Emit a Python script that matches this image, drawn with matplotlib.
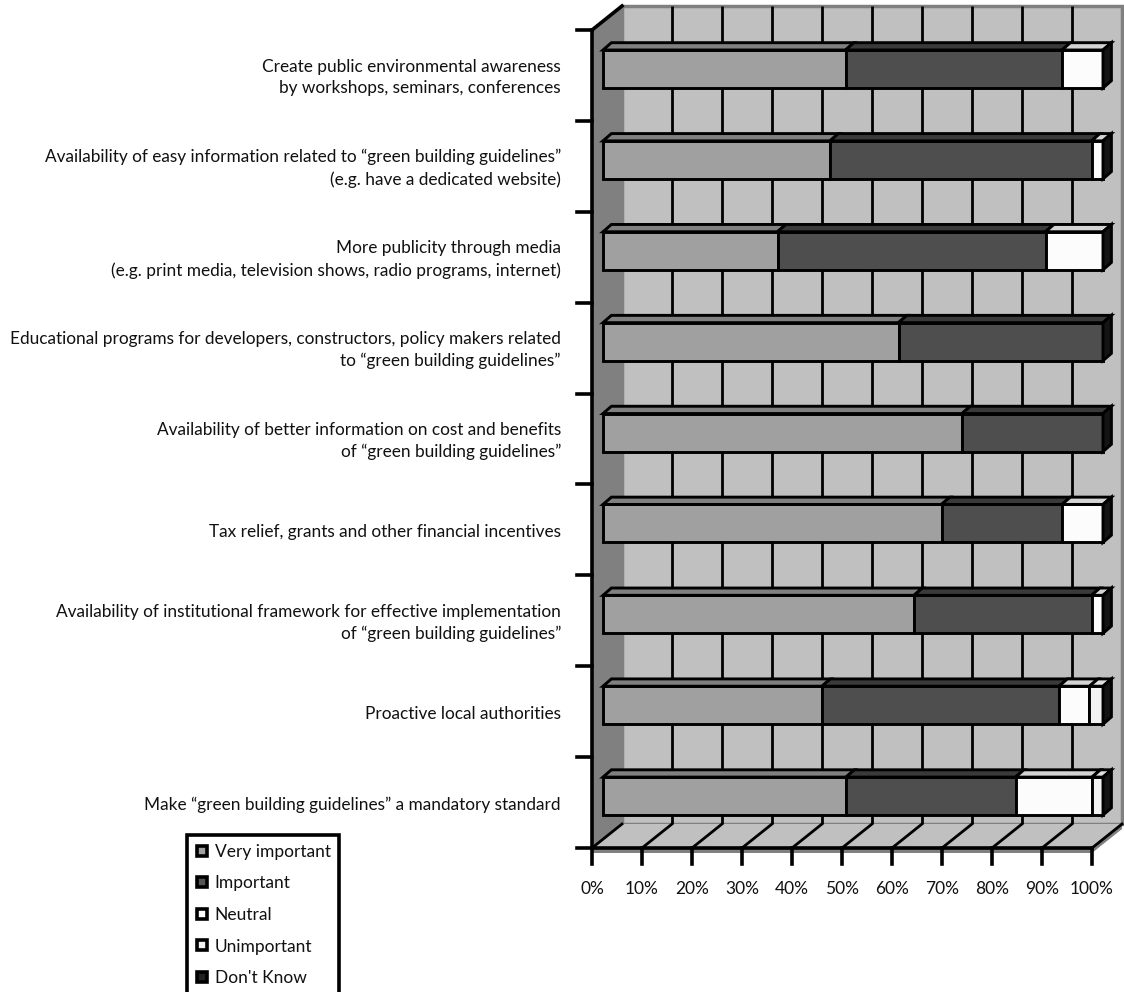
import matplotlib
matplotlib.use("Agg")
import matplotlib.pyplot as plt
from matplotlib.patches import Polygon
from matplotlib.lines import Line2D

plt.rcParams["font.family"] = ["Lato", "DejaVu Sans"]

# ---- data -------------------------------------------------------------
categories = [
    "Create public environmental awareness\nby workshops, seminars, conferences",
    "Availability of easy information related to \u201cgreen building guidelines\u201d\n(e.g. have a dedicated website)",
    "More publicity through media\n(e.g. print media, television shows, radio programs, internet)",
    "Educational programs for developers, constructors, policy makers related\nto \u201cgreen building guidelines\u201d",
    "Availability of better information on cost and benefits\nof \u201cgreen building guidelines\u201d",
    "Tax relief, grants and other financial incentives",
    "Availability of institutional framework for effective implementation\nof \u201cgreen building guidelines\u201d",
    "Proactive local authorities",
    "Make \u201cgreen building guidelines\u201d a mandatory standard",
]
very_important = [48.5, 45.4, 34.9, 59.1, 71.8, 67.7, 62.2, 43.8, 48.6]
important      = [43.3, 52.3, 53.6, 40.9, 28.2, 24.1, 35.5, 47.4, 33.9]
neutral        = [8.2, 2.3, 11.5, 0.0, 0.0, 8.2, 2.3, 6.1, 15.3]
unimportant    = [0.0, 0.0, 0.0, 0.0, 0.0, 0.0, 0.0, 2.7, 2.2]
dont_know      = [0.0, 0.0, 0.0, 0.0, 0.0, 0.0, 0.0, 0.0, 0.0]
series_names = ["Very important", "Important", "Neutral", "Unimportant", "Don't Know"]
x_ticks = [0, 10, 20, 30, 40, 50, 60, 70, 80, 90, 100]

# ---- styling ----------------------------------------------------------
front_cols = ["#a0a0a0", "#4e4e4e", "#fcfcfc", "#f2f2f2", "#222222"]
top_cols   = ["#808080", "#3a3a3a", "#d4d4d4", "#e0e0e0", "#111111"]
legend_cols = ["#a0a0a0", "#555555", "#ffffff", "#f2f2f2", "#222222"]
side_col = "#141414"
wall_col = "#c0c0c0"
side_wall_col = "#808080"
txt_col = "#111111"

PX_X = 5.0          # pixels per percent
PX_Y = 90.89        # pixels per category band
WX, WY = 30 / PX_X, -24 / PX_Y        # depth of the back wall
FX, FY = 11 / PX_X, -6.45 / PX_Y      # front face of the bars
BDX, BDY = 8.4 / PX_X, -7.3 / PX_Y    # bar depth
BH = 38 / PX_Y                        # bar height
T = 5 / PX_Y                          # floor thickness
n = len(categories)

fig = plt.figure(figsize=(11.24, 9.92), dpi=100)
ax = fig.add_axes([0, 0, 1, 1])
ax.set_xlim(-592 / PX_X, (1124 - 592) / PX_X)
ax.set_ylim(n + (992 - 848) / PX_Y, -30 / PX_Y)
ax.axis("off")


def poly(pts, fc, ec="black", lw=2.0, z=1):
    ax.add_patch(Polygon(pts, closed=True, facecolor=fc, edgecolor=ec,
                         linewidth=lw, joinstyle="miter", zorder=z))


# back wall with gridlines
poly([(WX, WY), (100 + WX, WY), (100 + WX, n + WY), (WX, n + WY)],
     wall_col, ec=side_wall_col, lw=2.5, z=1)
for v in x_ticks[1:-1]:
    ax.plot([v + WX, v + WX], [WY, n + WY], color="black", lw=2, zorder=2,
            solid_capstyle="butt")

# side wall and floor
poly([(0, 0), (WX, WY), (WX, n + WY), (0, n)], side_wall_col, ec="none", z=2)
poly([(0, n), (WX, n + WY), (100 + WX, n + WY), (100, n)], wall_col, ec="none", z=2)
poly([(0, n), (100, n), (100, n + T), (0, n + T)], side_wall_col, ec="none", z=2)
poly([(100, n), (100 + WX, n + WY), (100 + WX, n + WY + T), (100, n + T)],
     side_wall_col, ec="none", z=2)
for v in x_ticks:
    ax.plot([v, v + WX], [n, n + WY], color="black", lw=2, zorder=3)

# axis lines and ticks
ax.plot([0, 0], [0, n], color="black", lw=2.6, zorder=3)
ax.plot([0, WX], [0, WY], color="black", lw=2.6, zorder=3)
ax.plot([-3, 100], [n, n], color="black", lw=2.6, zorder=3)
for k in range(n):
    ax.plot([-3, 0], [k, k], color="black", lw=2.6, zorder=3)
for v in x_ticks:
    ax.plot([v, v], [n, n + 16 / PX_Y], color="black", lw=2.6, zorder=3)
    ax.text(v, n + 41 / PX_Y, f"{v}%", ha="center", va="center",
            fontsize=12.5, color=txt_col)

# stacked 3-D bars
series = [very_important, important, neutral, unimportant, dont_know]
for i in range(n):
    y_top = i + 0.5 - BH / 2 + FY
    y_bot = y_top + BH
    start = 0.0
    for s_idx, vals in enumerate(series):
        w = vals[i]
        if w <= 0:
            continue
        x0, x1 = start + FX, start + w + FX
        poly([(x0, y_top), (x1, y_top), (x1, y_bot), (x0, y_bot)],
             front_cols[s_idx], lw=2.1, z=5)
        poly([(x0, y_top), (x1, y_top), (x1 + BDX, y_top + BDY), (x0 + BDX, y_top + BDY)],
             top_cols[s_idx], lw=2.1, z=5)
        start += w
    r = start + FX
    poly([(r, y_top), (r + BDX, y_top + BDY), (r + BDX, y_bot + BDY), (r, y_bot)],
         side_col, lw=2.1, z=5)

# category labels
for i, lab in enumerate(categories):
    ax.text(-31 / PX_X, i + 0.5 + 2 / PX_Y, lab, ha="right", va="center",
            fontsize=12.4, linespacing=1.45, color=txt_col,
            multialignment="right")

# legend
handles = [Line2D([], [], linestyle="none", marker="s", markersize=6.5,
                  markerfacecolor=c, markeredgecolor="black", markeredgewidth=2.6)
           for c in legend_cols]
leg = ax.legend(handles, series_names, loc="upper left",
                bbox_to_anchor=(187 / 1124, 1 - 835 / 992), borderaxespad=0,
                fontsize=12.5, frameon=True, fancybox=False, framealpha=1,
                handlelength=0.7, handletextpad=0.4, labelspacing=0.9,
                borderpad=0.5)
leg.get_frame().set_edgecolor("black")
leg.get_frame().set_linewidth(2.6)
for t in leg.get_texts():
    t.set_color(txt_col)

fig.savefig("out.png", dpi=100, facecolor="white")
